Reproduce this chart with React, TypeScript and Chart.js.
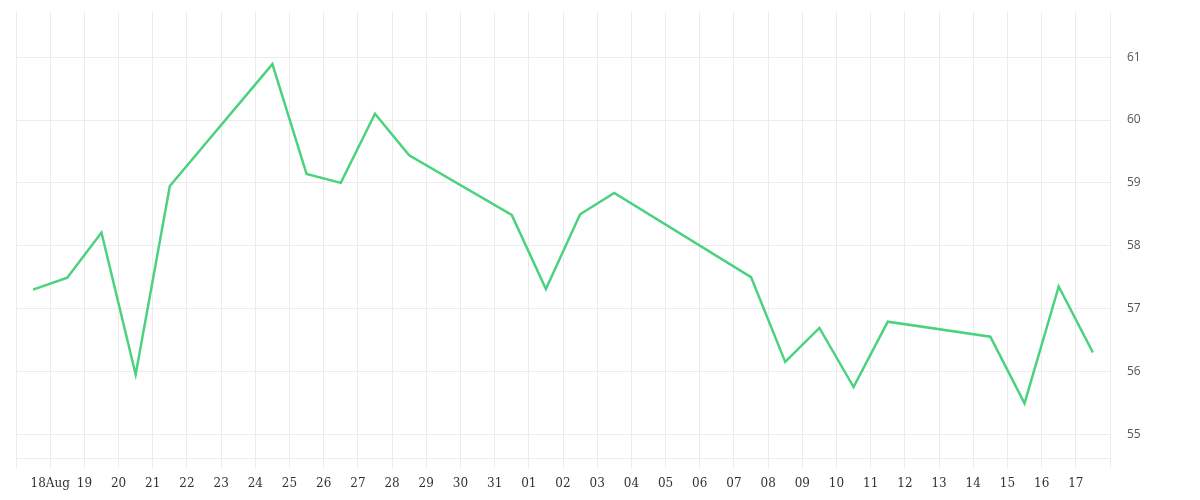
import { useEffect, useRef } from "react";
import { Chart, registerables } from "chart.js";

Chart.register(...registerables);

// trading days (noon of each day) and closing values
const dates = [
  "2020-08-17", "2020-08-18", "2020-08-19", "2020-08-20", "2020-08-21",
  "2020-08-24", "2020-08-25", "2020-08-26", "2020-08-27", "2020-08-28",
  "2020-08-31", "2020-09-01", "2020-09-02", "2020-09-03",
  "2020-09-07", "2020-09-08", "2020-09-09", "2020-09-10", "2020-09-11",
  "2020-09-14", "2020-09-15", "2020-09-16", "2020-09-17",
];
const values = [
  57.3, 57.49, 58.21, 55.95, 58.95,
  60.89, 59.14, 59.0, 60.1, 59.44,
  58.49, 57.31, 58.5, 58.84,
  57.5, 56.15, 56.69, 55.75, 56.79,
  56.55, 55.49, 57.35, 56.3,
];
// one label per day from Aug 17 to Sep 18
const tickLabels = [
  "", "18Aug", "19", "20", "21", "22", "23", "24", "25", "26", "27", "28", "29", "30", "31",
  "01", "02", "03", "04", "05", "06", "07", "08", "09", "10", "11", "12", "13", "14", "15", "16", "17", "",
];

const startDay = Date.UTC(2020, 7, 17);
const dayMs = 86400000;
const toDay = (d: string) => {
  const [y, m, dd] = d.split("-").map(Number);
  return (Date.UTC(y, m - 1, dd) - startDay) / dayMs + 0.5;
};

const LINE = "#4ad27e";
const GRID = "#ececec";

const App = () => {
  const canvasRef = useRef<HTMLCanvasElement>(null);

  useEffect(() => {
    if (!canvasRef.current) return;
    const ctx = canvasRef.current.getContext("2d");
    if (!ctx) return;

    const chart = new Chart(ctx, {
      type: "line",
      data: {
        datasets: [{
          data: dates.map((d, i) => ({ x: toDay(d), y: values[i] })),
          borderColor: LINE,
          borderWidth: 2.5,
          pointRadius: 0,
          tension: 0,
          fill: false,
        }],
      },
      options: {
        animation: false,
        responsive: true,
        maintainAspectRatio: false,
        layout: { padding: { left: 16, top: 12, right: 0, bottom: 0 } },
        plugins: {
          legend: { display: false },
          tooltip: { enabled: false },
        },
        scales: {
          x: {
            type: "linear",
            min: 0,
            max: tickLabels.length - 1,
            afterFit: (s: any) => {
              s.height = 42;
              s.paddingLeft = 0;
              s.paddingRight = 0;
            },
            afterBuildTicks: (s: any) => {
              s.ticks = tickLabels.map((_, i) => ({ value: i }));
            },
            grid: { color: GRID, tickLength: 10, tickColor: GRID },
            border: { display: true, color: GRID },
            ticks: {
              autoSkip: false,
              maxRotation: 0,
              padding: 9,
              color: "#333",
              font: { family: "'DejaVu Serif', serif", size: 12 },
              callback: (v: any) => tickLabels[Number(v)] ?? "",
            },
          },
          y: {
            position: "right",
            min: 54.62,
            max: 61.72,
            afterFit: (s: any) => {
              s.width = 90;
              s.paddingTop = 0;
              s.paddingBottom = 0;
            },
            grid: { color: GRID, drawTicks: false },
            border: { display: true, color: GRID },
            ticks: {
              stepSize: 1,
              includeBounds: false,
              padding: 17,
              color: "#555",
              font: { family: "'Open Sans', sans-serif", size: 12 },
            },
          },
        },
      },
    });

    return () => chart.destroy();
  }, []);

  return (
    <div style={{ position: "absolute", left: 0, top: 0, width: 1200, height: 500, background: "#fff" }}>
      <canvas ref={canvasRef}></canvas>
    </div>
  );
};

export default App;
